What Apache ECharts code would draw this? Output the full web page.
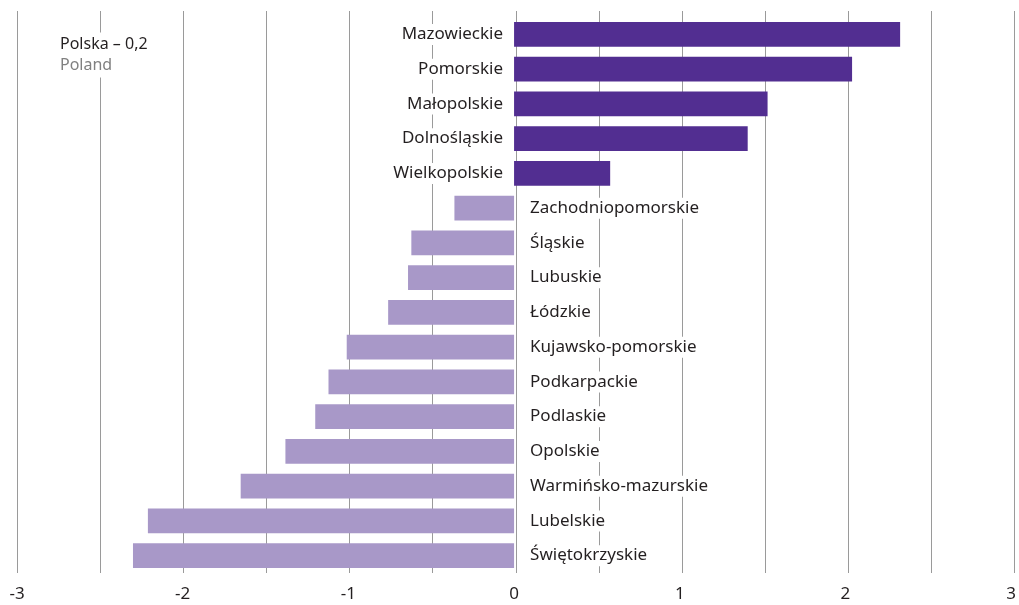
<!DOCTYPE html>
<html>
<head>
<meta charset="utf-8">
<script src="https://cdn.jsdelivr.net/npm/echarts@6/dist/echarts.min.js"></script>
<style>html,body{margin:0;padding:0;background:#fff}#c{width:1019px;height:605px}</style>
</head>
<body>
<div id="c"></div>
<script>
const categories = ['Mazowieckie','Pomorskie','Małopolskie','Dolnośląskie','Wielkopolskie','Zachodniopomorskie','Śląskie','Lubuskie','Łódzkie','Kujawsko-pomorskie','Podkarpackie','Podlaskie','Opolskie','Warmińsko-mazurskie','Lubelskie','Świętokrzyskie'];
const values = [2.33, 2.04, 1.53, 1.41, 0.58, -0.36, -0.62, -0.64, -0.76, -1.01, -1.12, -1.20, -1.38, -1.65, -2.21, -2.30];
const polandLabel = 'Polska – 0,2';
const polandLabelEn = 'Poland';

const DARK = '#522e91', LIGHT = '#a898c8';
const FONT = '"Noto Sans", sans-serif';

const chart = echarts.init(document.getElementById('c'), null, {renderer: 'canvas'});
const data = values.map(v => ({
  value: v,
  itemStyle: {color: v >= 0 ? DARK : LIGHT},
  label: v >= 0 ? {position: 'left', distance: 8} : {position: 'right', distance: 13}
}));

chart.setOption({
  animation: false,
  backgroundColor: '#fff',
  title: {
    text: '{a|' + polandLabel + '}\n{b|' + polandLabelEn + '}',
    left: 56, top: 30,
    backgroundColor: '#fff',
    padding: [4, 4],
    textStyle: {
      fontWeight: 'normal',
      rich: {
        a: {fontFamily: FONT, fontSize: 16, fontWeight: 'normal', color: '#231f20', lineHeight: 21},
        b: {fontFamily: FONT, fontSize: 16, fontWeight: 'normal', color: '#808080', lineHeight: 21}
      }
    }
  },
  grid: [
    {left: 17, right: 4.5, top: 17, bottom: 32},
    {left: 17, right: 4.5, top: 11, bottom: 32}
  ],
  xAxis: [
    {
      gridIndex: 0, type: 'value', min: -3, max: 3, interval: 1,
      axisLine: {show: false}, axisTick: {show: false}, splitLine: {show: false},
      axisLabel: {fontFamily: FONT, fontSize: 17, color: '#231f20', margin: 13}
    },
    {
      gridIndex: 1, type: 'value', min: -3, max: 3, interval: 0.5,
      axisLine: {show: false}, axisTick: {show: false}, axisLabel: {show: false},
      splitLine: {show: true, lineStyle: {color: '#9a9a9a', width: 1}}
    }
  ],
  yAxis: [
    {gridIndex: 0, type: 'category', data: categories, inverse: true, show: false},
    {gridIndex: 1, type: 'category', data: [''], show: false}
  ],
  series: [{
    type: 'bar',
    xAxisIndex: 0, yAxisIndex: 0,
    data: data,
    barWidth: '71%',
    z: 3,
    label: {
      show: true,
      formatter: '{b}',
      fontFamily: FONT, fontSize: 17, color: '#231f20',
      backgroundColor: '#fff', padding: [2, 3]
    }
  }]
});
</script>
</body>
</html>
